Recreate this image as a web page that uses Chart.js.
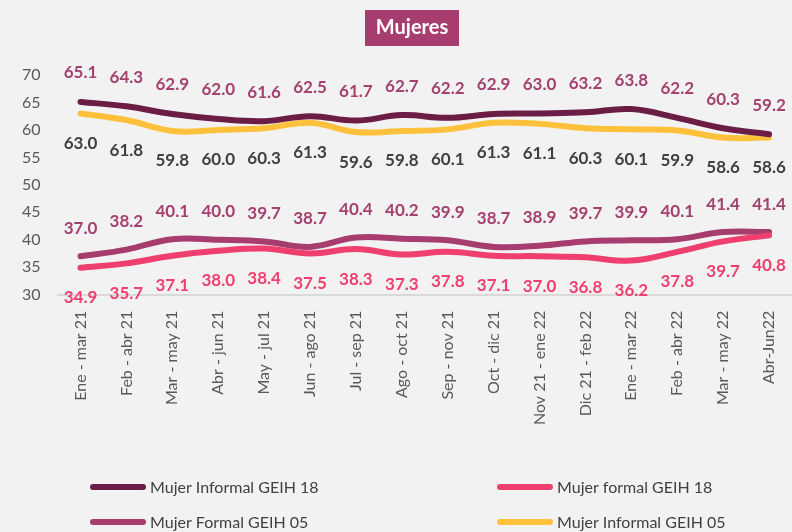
<!DOCTYPE html>
<html>
<head>
<meta charset="utf-8">
<script src="https://cdn.jsdelivr.net/npm/chart.js@4/dist/chart.umd.min.js"></script>
<style>
html,body{margin:0;padding:0;background:#F2F2F2;}
#wrap{width:792px;height:532px;position:relative;}
</style>
</head>
<body>
<div id="wrap"><canvas id="c"></canvas></div>
<script>
const categories = ["Ene - mar 21","Feb - abr 21","Mar - may 21","Abr - jun 21","May - jul 21","Jun - ago 21","Jul - sep 21","Ago - oct 21","Sep - nov 21","Oct - dic 21","Nov 21 - ene 22","Dic 21 - feb 22","Ene - mar 22","Feb - abr 22","Mar - may 22","Abr-Jun22"];
const mujerInformal18 = [65.1,64.3,62.9,62.0,61.6,62.5,61.7,62.7,62.2,62.9,63.0,63.2,63.8,62.2,60.3,59.2];
const mujerFormal18   = [34.9,35.7,37.1,38.0,38.4,37.5,38.3,37.3,37.8,37.1,37.0,36.8,36.2,37.8,39.7,40.8];
const mujerFormal05   = [37.0,38.2,40.1,40.0,39.7,38.7,40.4,40.2,39.9,38.7,38.9,39.7,39.9,40.1,41.4,41.4];
const mujerInformal05 = [63.0,61.8,59.8,60.0,60.3,61.3,59.6,59.8,60.1,61.3,61.1,60.3,60.1,59.9,58.6,58.6];
const seriesNames = ["Mujer Informal GEIH 18","Mujer formal GEIH 18","Mujer Formal GEIH 05","Mujer Informal GEIH 05"];
const chartTitle = "Mujeres";

const lineColors = ["#6B1D45","#EE3F6E","#A63D6E","#FFC13B"];
const labelColors = ["#A4416F","#EE3F6E","#A4416F","#404040"];
const labelOffsets = [-29, 30, -28, 30];

const bgPlugin = {
  id:'bg',
  beforeDraw(chart){
    const ctx = chart.ctx;
    ctx.save();
    ctx.fillStyle = '#F2F2F2';
    ctx.fillRect(0,0,chart.width,chart.height);
    ctx.restore();
  }
};

const decoPlugin = {
  id:'deco',
  afterDatasetsDraw(chart){
    const ctx = chart.ctx;
    ctx.save();
    ctx.font = 'bold 17px Lato';
    ctx.textAlign = 'center';
    ctx.textBaseline = 'middle';
    chart.data.datasets.forEach((ds, i) => {
      const meta = chart.getDatasetMeta(i);
      ctx.fillStyle = labelColors[i];
      meta.data.forEach((pt, j) => {
        ctx.fillText(ds.data[j].toFixed(1), pt.x, pt.y + labelOffsets[i]);
      });
    });
    ctx.restore();
  },
  afterDraw(chart){
    const ctx = chart.ctx;
    ctx.save();
    ctx.fillStyle = '#A63D6E';
    ctx.fillRect(365, 10, 94, 36);
    ctx.fillStyle = '#FFFFFF';
    ctx.font = 'bold 20px Lato';
    ctx.textAlign = 'center';
    ctx.textBaseline = 'middle';
    ctx.fillText(chartTitle, 412, 28);
    const pos = [[90,487],[497,487],[90,522],[497,522]];
    ctx.font = '16px Lato';
    ctx.textAlign = 'left';
    ctx.lineCap = 'round';
    ctx.lineWidth = 6;
    seriesNames.forEach((name, i) => {
      const [x,y] = pos[i];
      ctx.strokeStyle = lineColors[i];
      ctx.beginPath();
      ctx.moveTo(x+3, y);
      ctx.lineTo(x+53, y);
      ctx.stroke();
      ctx.fillStyle = '#404040';
      ctx.fillText(name, x+60, y+1);
    });
    ctx.restore();
  }
};

const datasets = [mujerInformal18, mujerFormal18, mujerFormal05, mujerInformal05].map((d,i)=>({
  label: seriesNames[i],
  data: d,
  borderColor: lineColors[i],
  backgroundColor: lineColors[i],
  borderWidth: 6,
  borderCapStyle: 'round',
  pointRadius: 0,
  tension: 0.4,
  fill: false
}));

new Chart(document.getElementById('c'), {
  type: 'line',
  data: { labels: categories, datasets },
  options: {
    responsive: true,
    maintainAspectRatio: false,
    animation: false,
    layout: { padding: { top: 75, bottom: 91, left: 5, right: -7 } },
    plugins: { legend: { display: false }, title: { display: false }, tooltip: { enabled: false } },
    scales: {
      x: {
        offset: true,
        afterFit(scale){ scale.paddingRight = 0; scale.paddingLeft = 0; },
        grid: { display: false, drawTicks: false },
        border: { display: true, color: '#D9D9D9', width: 2 },
        ticks: { autoSkip: false, maxRotation: 90, minRotation: 90, color: '#595959', font: { family: 'Lato', size: 16 }, padding: 16 }
      },
      y: {
        min: 30, max: 70,
        grid: { display: false, drawTicks: false },
        border: { display: false },
        ticks: { stepSize: 5, color: '#595959', font: { family: 'Lato', size: 16 }, padding: 17 }
      }
    }
  },
  plugins: [bgPlugin, decoPlugin]
});
</script>
</body>
</html>
